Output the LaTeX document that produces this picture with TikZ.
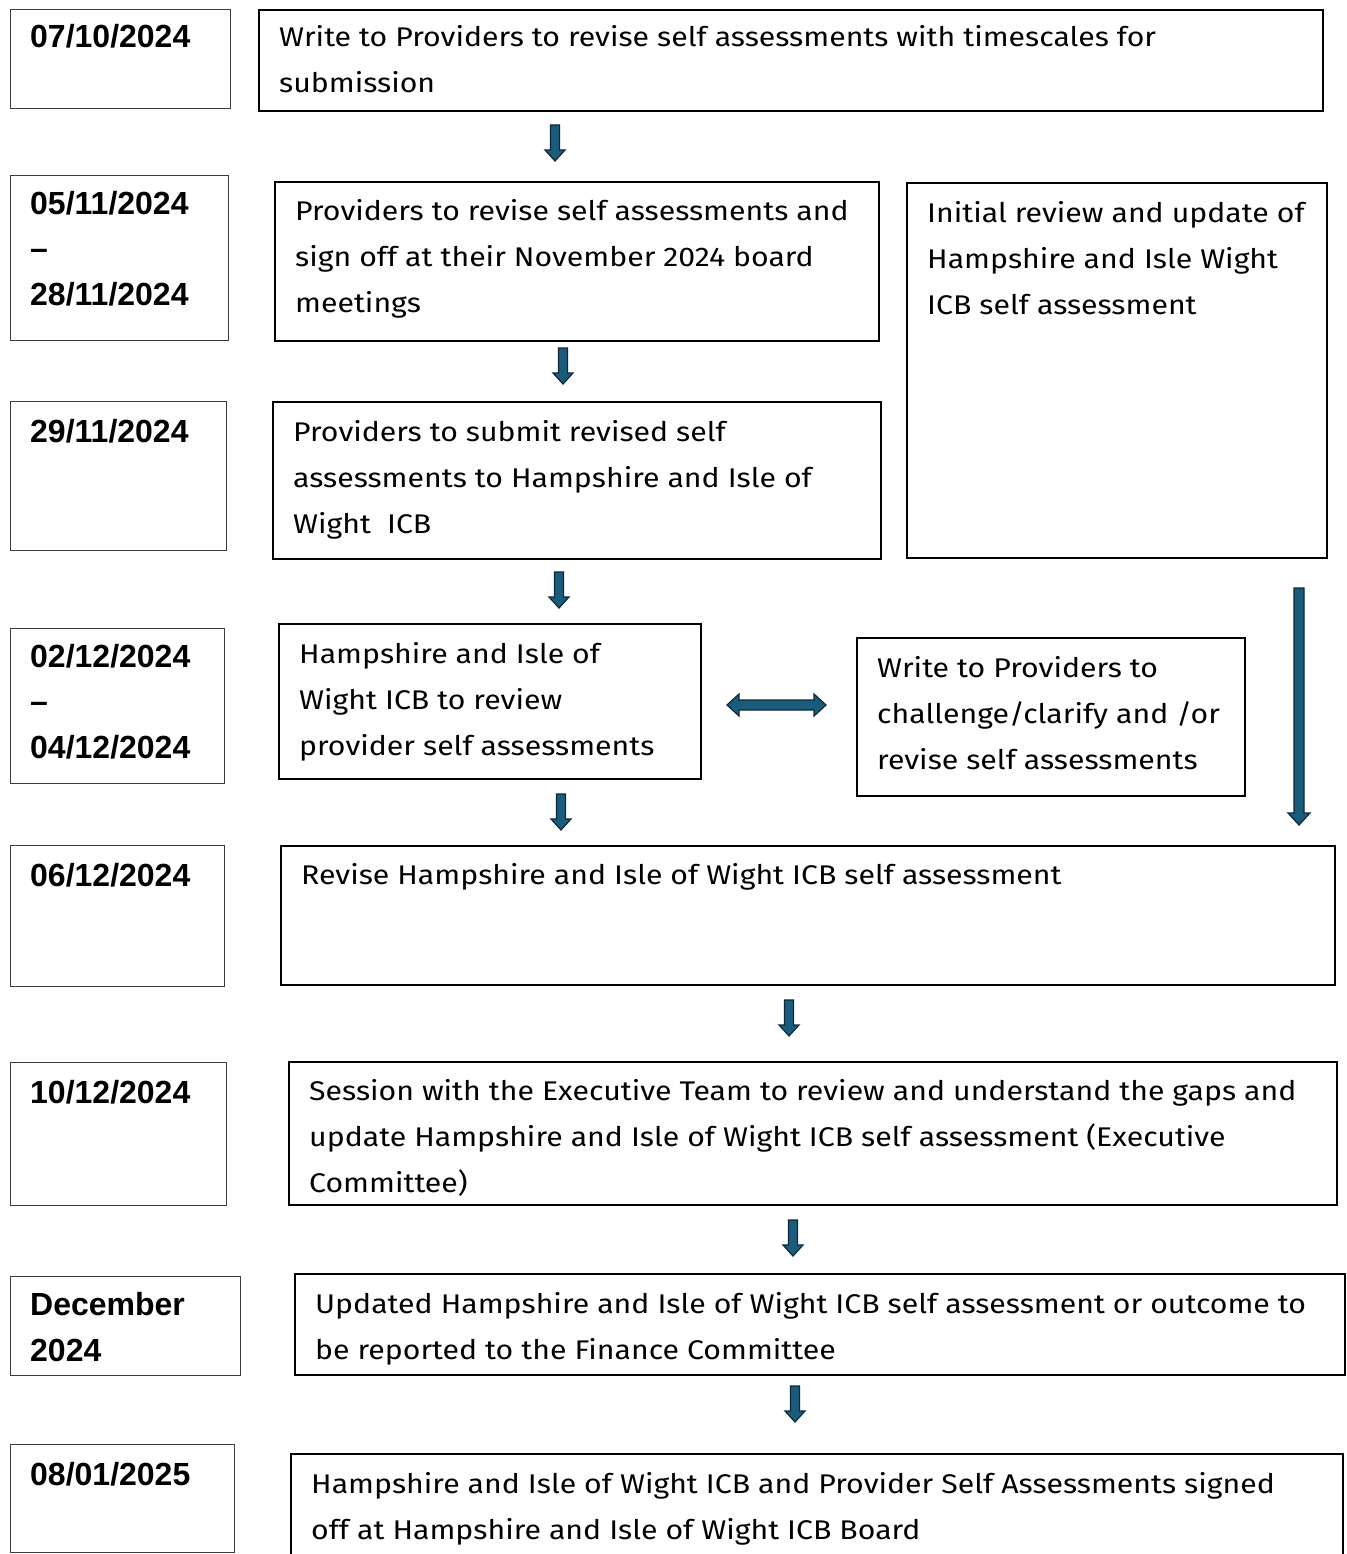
\documentclass[tikz,border=0pt]{standalone}
\usepackage{fontspec}
\setmainfont[FakeStretch=1.12]{Fira Sans}
\newfontfamily\datefont{Liberation Sans}
\definecolor{arrfill}{RGB}{27,92,125}
\definecolor{arrline}{RGB}{12,40,56}
\definecolor{dateline}{RGB}{60,60,60}
\newcommand\vArr[4]{% name, x, ytop, ybot
  \coordinate (#1s) at (#2,#3);\coordinate (#1e) at (#2,#4);
  \filldraw[arrowshape] (#2-4.5,#3) -- (#2+4.5,#3) -- (#2+4.5,#4-11) -- (#2+10,#4-11) -- (#2,#4) -- (#2-10,#4-11) -- (#2-4.5,#4-11) -- cycle;}
\begin{document}
\begin{tikzpicture}[x=1pt,y=-1pt,
  datebox/.style={draw=dateline,line width=1.3pt,anchor=north west,inner sep=0pt},
  mainbox/.style={draw=black,line width=1.6pt,anchor=north west,inner sep=0pt},
  datetxt/.style={anchor=base west,inner sep=0pt,align=left,font=\datefont\bfseries\fontsize{32}{45.5}\selectfont},
  bodytxt/.style={anchor=base west,inner sep=0pt,align=left,font=\fontsize{27}{46}\selectfont},
  arrowshape/.style={fill=arrfill,draw=arrline,line width=1.2pt,line join=miter}]
\useasboundingbox (0,0) rectangle (1346,1554);
\clip (0,0) rectangle (1346,1554);
% row 1
\node[datebox,minimum width=220,minimum height=99] (d1) at (10,9) {};
\node[datetxt] (d1t) at (30,48) {07/10/2024};
\node[mainbox,minimum width=1064,minimum height=101] (m1) at (258,9) {};
\node[bodytxt] (m1t) at (279,93) {Write to Providers to revise self assessments with timescales for\\submission};
\vArr{a1}{555}{125}{161}
% row 2
\node[datebox,minimum width=218,minimum height=165] (d2) at (10,175) {};
\node[datetxt] (d2t) at (30,305) {05/11/2024\\–\\28/11/2024};
\node[mainbox,minimum width=604,minimum height=159] (m2) at (274,181) {};
\node[bodytxt] (m2t) at (295,312) {Providers to revise self assessments and\\sign off at their November 2024 board\\meetings};
\node[mainbox,minimum width=420,minimum height=375] (r2) at (906,182) {};
\node[bodytxt] (r2t) at (927,314) {Initial review and update of\\Hampshire and Isle Wight\\ICB self assessment};
\vArr{a2}{563}{348}{384}
% row 3
\node[datebox,minimum width=216,minimum height=149] (d3) at (10,401) {};
\node[datetxt] (d3t) at (30,442) {29/11/2024};
\node[mainbox,minimum width=608,minimum height=157] (m3) at (272,401) {};
\node[bodytxt] (m3t) at (293,533) {Providers to submit revised self\\assessments to Hampshire and Isle of\\Wight \ ICB};
\vArr{a3}{559}{572}{608}
% long arrow
\coordinate (la1) at (1299,588);\coordinate (la2) at (1299,825);
\filldraw[arrowshape] (1294,588) -- (1304,588) -- (1304,813) -- (1310,813) -- (1299,825) -- (1288,813) -- (1294,813) -- cycle;
% row 4
\node[datebox,minimum width=214,minimum height=155] (d4) at (10,628) {};
\node[datetxt] (d4t) at (30,758) {02/12/2024\\–\\04/12/2024};
\node[mainbox,minimum width=422,minimum height=155] (m4) at (278,623) {};
\node[bodytxt] (m4t) at (299,755) {Hampshire and Isle of\\Wight ICB to review\\provider self assessments};
\node[mainbox,minimum width=388,minimum height=158] (r4) at (856,637) {};
\node[bodytxt] (r4t) at (877,769) {Write to Providers to\\challenge/clarify and /or\\revise self assessments};
\coordinate (da1) at (727,705);\coordinate (da2) at (826,705);
\filldraw[arrowshape] (727,705) -- (739,694) -- (739,700) -- (814,700) -- (814,694) -- (826,705) -- (814,716) -- (814,710) -- (739,710) -- (739,716) -- cycle;
\vArr{a4}{561}{794}{830}
% row 5
\node[datebox,minimum width=214,minimum height=141] (d5) at (10,845) {};
\node[datetxt] (d5t) at (30,886) {06/12/2024};
\node[mainbox,minimum width=1054,minimum height=139] (m5) at (280,845) {};
\node[bodytxt] (m5t) at (301,884) {Revise Hampshire and Isle of Wight ICB self assessment};
\vArr{a5}{789}{1000}{1036}
% row 6
\node[datebox,minimum width=216,minimum height=143] (d6) at (10,1062) {};
\node[datetxt] (d6t) at (30,1103) {10/12/2024};
\node[mainbox,minimum width=1048,minimum height=143] (m6) at (288,1061) {};
\node[bodytxt] (m6t) at (309,1192) {Session with the Executive Team to review and understand the gaps and\\update Hampshire and Isle of Wight ICB self assessment (Executive\\Committee)};
\vArr{a6}{793}{1220}{1256}
% row 7
\node[datebox,minimum width=230,minimum height=99] (d7) at (10,1276) {};
\node[datetxt] (d7t) at (30,1361) {December\\2024};
\node[mainbox,minimum width=1050,minimum height=101] (m7) at (294,1273) {};
\node[bodytxt] (m7t) at (315,1359) {Updated Hampshire and Isle of Wight ICB self assessment or outcome to\\be reported to the Finance Committee};
\vArr{a7}{795}{1386}{1422}
% row 8
\node[datebox,minimum width=224,minimum height=108] (d8) at (10,1444) {};
\node[datetxt] (d8t) at (30,1485) {08/01/2025};
\node[mainbox,minimum width=1052,minimum height=140] (m8) at (290,1453) {};
\node[bodytxt] (m8t) at (311,1539) {Hampshire and Isle of Wight ICB and Provider Self Assessments signed\\off at Hampshire and Isle of Wight ICB Board};
\end{tikzpicture}
\end{document}
